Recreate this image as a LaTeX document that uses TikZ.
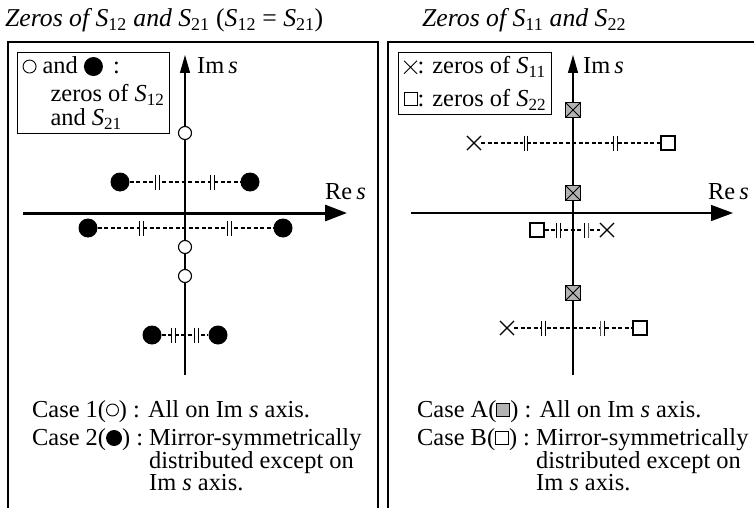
\documentclass[tikz,border=0pt]{standalone}
\usepackage{fontspec}
\setmainfont{Liberation Serif}
\usetikzlibrary{arrows.meta, positioning, shapes.misc}

%% inline symbols used in the legends
\newcommand\opendot[1][6pt]{\tikz[baseline=-7pt]\draw[line width=0.9pt] (0,0) circle (#1);}
\newcommand\fulldot[1][8pt]{\tikz[baseline=-7pt]\fill (0,0) circle (#1);}
\newcommand\crosssym{\tikz[baseline=0pt]\draw[line width=0.9pt] (0,0) -- (13pt,13pt) (0,13pt) -- (13pt,0);}
\newcommand\boxsym[1][white]{\tikz[baseline=-1pt]\draw[line width=0.9pt, fill=#1] (0,0) rectangle (13pt,13pt);}
\newcommand\Sx[1]{\textit{S}\textsubscript{\upshape #1}}

\tikzset{
  %% panel frame, open at the bottom
  frame/.style={draw, line width=1.3pt},
  %% legend box
  legbox/.style={draw, line width=1.2pt, align=left, anchor=north west,
                 inner xsep=5pt, inner ysep=4pt},
  %% axes
  imaxis/.style={-{Triangle[length=18pt,width=10pt]}, line width=1.3pt},
  reaxis/.style={-{Triangle[length=22pt,width=16pt]}, line width=#1},
  reaxis/.default=1.3pt,
  %% zeros
  ozero/.style={circle, draw, fill=white, line width=1.1pt,
                minimum size=13pt, inner sep=0pt},
  fzero/.style={circle, fill=black, minimum size=19pt, inner sep=0pt},
  xzero/.style={cross out, draw, line width=1.1pt,
                minimum size=13pt, inner sep=0pt},
  qzero/.style={rectangle, draw, fill=white, line width=1.1pt,
                minimum size=14pt, inner sep=0pt},
  gzero/.style={rectangle, draw, fill=black!30, line width=1.1pt,
                minimum size=15pt, inner sep=0pt,
                path picture={\draw[solid, line width=0.8pt]
                  (path picture bounding box.north west) -- (path picture bounding box.south east)
                  (path picture bounding box.north east) -- (path picture bounding box.south west);}},
  %% mirror pair link and its equal-length ticks
  pair/.style={dash pattern=on 4pt off 2.5pt, line width=1.1pt},
  eqtick/.style={rectangle, fill=white, minimum width=5pt, minimum height=15pt,
                 inner sep=0pt,
                 path picture={\draw[solid, line width=1pt]
                   ([xshift=0.6pt]path picture bounding box.north west) --
                   ([xshift=0.6pt]path picture bounding box.south west)
                   ([xshift=-0.6pt]path picture bounding box.north east) --
                   ([xshift=-0.6pt]path picture bounding box.south east);}},
  lbl/.style={anchor=base west, inner sep=0pt},
}

\begin{document}
\begin{tikzpicture}[x=1pt, y=-1pt,
                    every node/.style={font=\fontsize{24.4}{21}\selectfont}]
  \useasboundingbox (0,0) rectangle (754,508);

  %% titles and frames
  \node[lbl, font=\fontsize{25.7}{25}\selectfont\itshape] (titleL) at (5,27)
       {Zeros of \Sx{12} and \Sx{21} \textup{(}\Sx{12} \textup{=} \Sx{21}\textup{)}};
  \node[lbl, font=\fontsize{25.7}{25}\selectfont\itshape] (titleR) at (422,27)
       {Zeros of \Sx{11} and \Sx{22}};
  \draw[frame] (8,508) -- (8,42) -- (378,42) -- (378,508);
  \draw[frame] (388,508) -- (388,42) -- (760,42);

  %% ---- left: S12, S21 ----
  \coordinate (imbotL) at (185,375);
  \coordinate (imtopL) at (185,55);
  \coordinate (restL) at (23,213);
  \coordinate (reendL) at (347,213);
  \draw[imaxis] (imbotL) -- (imtopL);
  \draw[reaxis=3pt] (restL) -- (reendL);
  \node[lbl] (imL) at (197,74) {Im\,\textit{s}};
  \node[lbl] (reL) at (325,199) {Re\,\textit{s}};

  \node[legbox] (legL) at (17,52)
       {\opendot[6.5pt] and \fulldot[9.5pt] \,:\\[7pt]
        \hspace*{28pt}zeros of \Sx{12}\\[3pt]
        \hspace*{28pt}and \Sx{21}};

  \foreach \n/\y in {o1/133, o2/247, o3/276}
    \node[ozero] (\n) at (185,\y) {};

  \node[fzero] (a1) at (120,182) {};
  \node[fzero] (b1) at (250,182) {};
  \node[fzero] (a2) at (88,228) {};
  \node[fzero] (b2) at (283,228) {};
  \node[fzero] (a3) at (152,335) {};
  \node[fzero] (b3) at (218,335) {};

  \foreach \a/\b in {a1/b1, a2/b2, a3/b3}
    \draw[pair] (\a) -- node[eqtick, pos=0.25] {} node[eqtick, pos=0.75] {} (\b);

  \node[lbl] (case1) at (32,417)
       {Case 1(\opendot) : All on Im \textit{s} axis.};
  \node[lbl] (case2) at (32,445)
       {\begin{tabular}[t]{@{}l@{}l@{}}
          Case 2(\fulldot) :~ & Mirror-symmetrically\\
                              & distributed except on\\
                              & Im \textit{s} axis.
        \end{tabular}};

  %% ---- right: S11, S22 ----
  \coordinate (imbotR) at (573,375);
  \coordinate (imtopR) at (573,55);
  \coordinate (restR) at (411,213);
  \coordinate (reendR) at (733,213);
  \draw[imaxis] (imbotR) -- (imtopR);
  \draw[reaxis] (restR) -- (reendR);
  \node[lbl] (imR) at (583,74) {Im\,\textit{s}};
  \node[lbl] (reR) at (708,199) {Re\,\textit{s}};

  \node[legbox] (legR) at (398,52)
       {\crosssym: zeros of \Sx{11}\\[12pt]
        \boxsym: zeros of \Sx{22}};

  \foreach \n/\y in {g1/110, g2/193, g3/293}
    \node[gzero] (\n) at (573,\y) {};

  \node[xzero] (x1) at (474,143) {};
  \node[qzero] (q1) at (668,143) {};
  \node[qzero] (q2) at (537,230) {};
  \node[xzero] (x2) at (607,230) {};
  \node[xzero] (x3) at (507,328) {};
  \node[qzero] (q3) at (640,328) {};

  \foreach \a/\b in {x1/q1, q2/x2, x3/q3}
    \draw[pair] (\a) -- node[eqtick, pos=0.25] {} node[eqtick, pos=0.75] {} (\b);

  \node[lbl] (caseA) at (417,417)
       {Case A(\boxsym[black!30]) : All on Im \textit{s} axis.};
  \node[lbl] (caseB) at (417,445)
       {\begin{tabular}[t]{@{}l@{}l@{}}
          Case B(\boxsym) :~ & Mirror-symmetrically\\
                             & distributed except on\\
                             & Im \textit{s} axis.
        \end{tabular}};
\end{tikzpicture}
\end{document}
